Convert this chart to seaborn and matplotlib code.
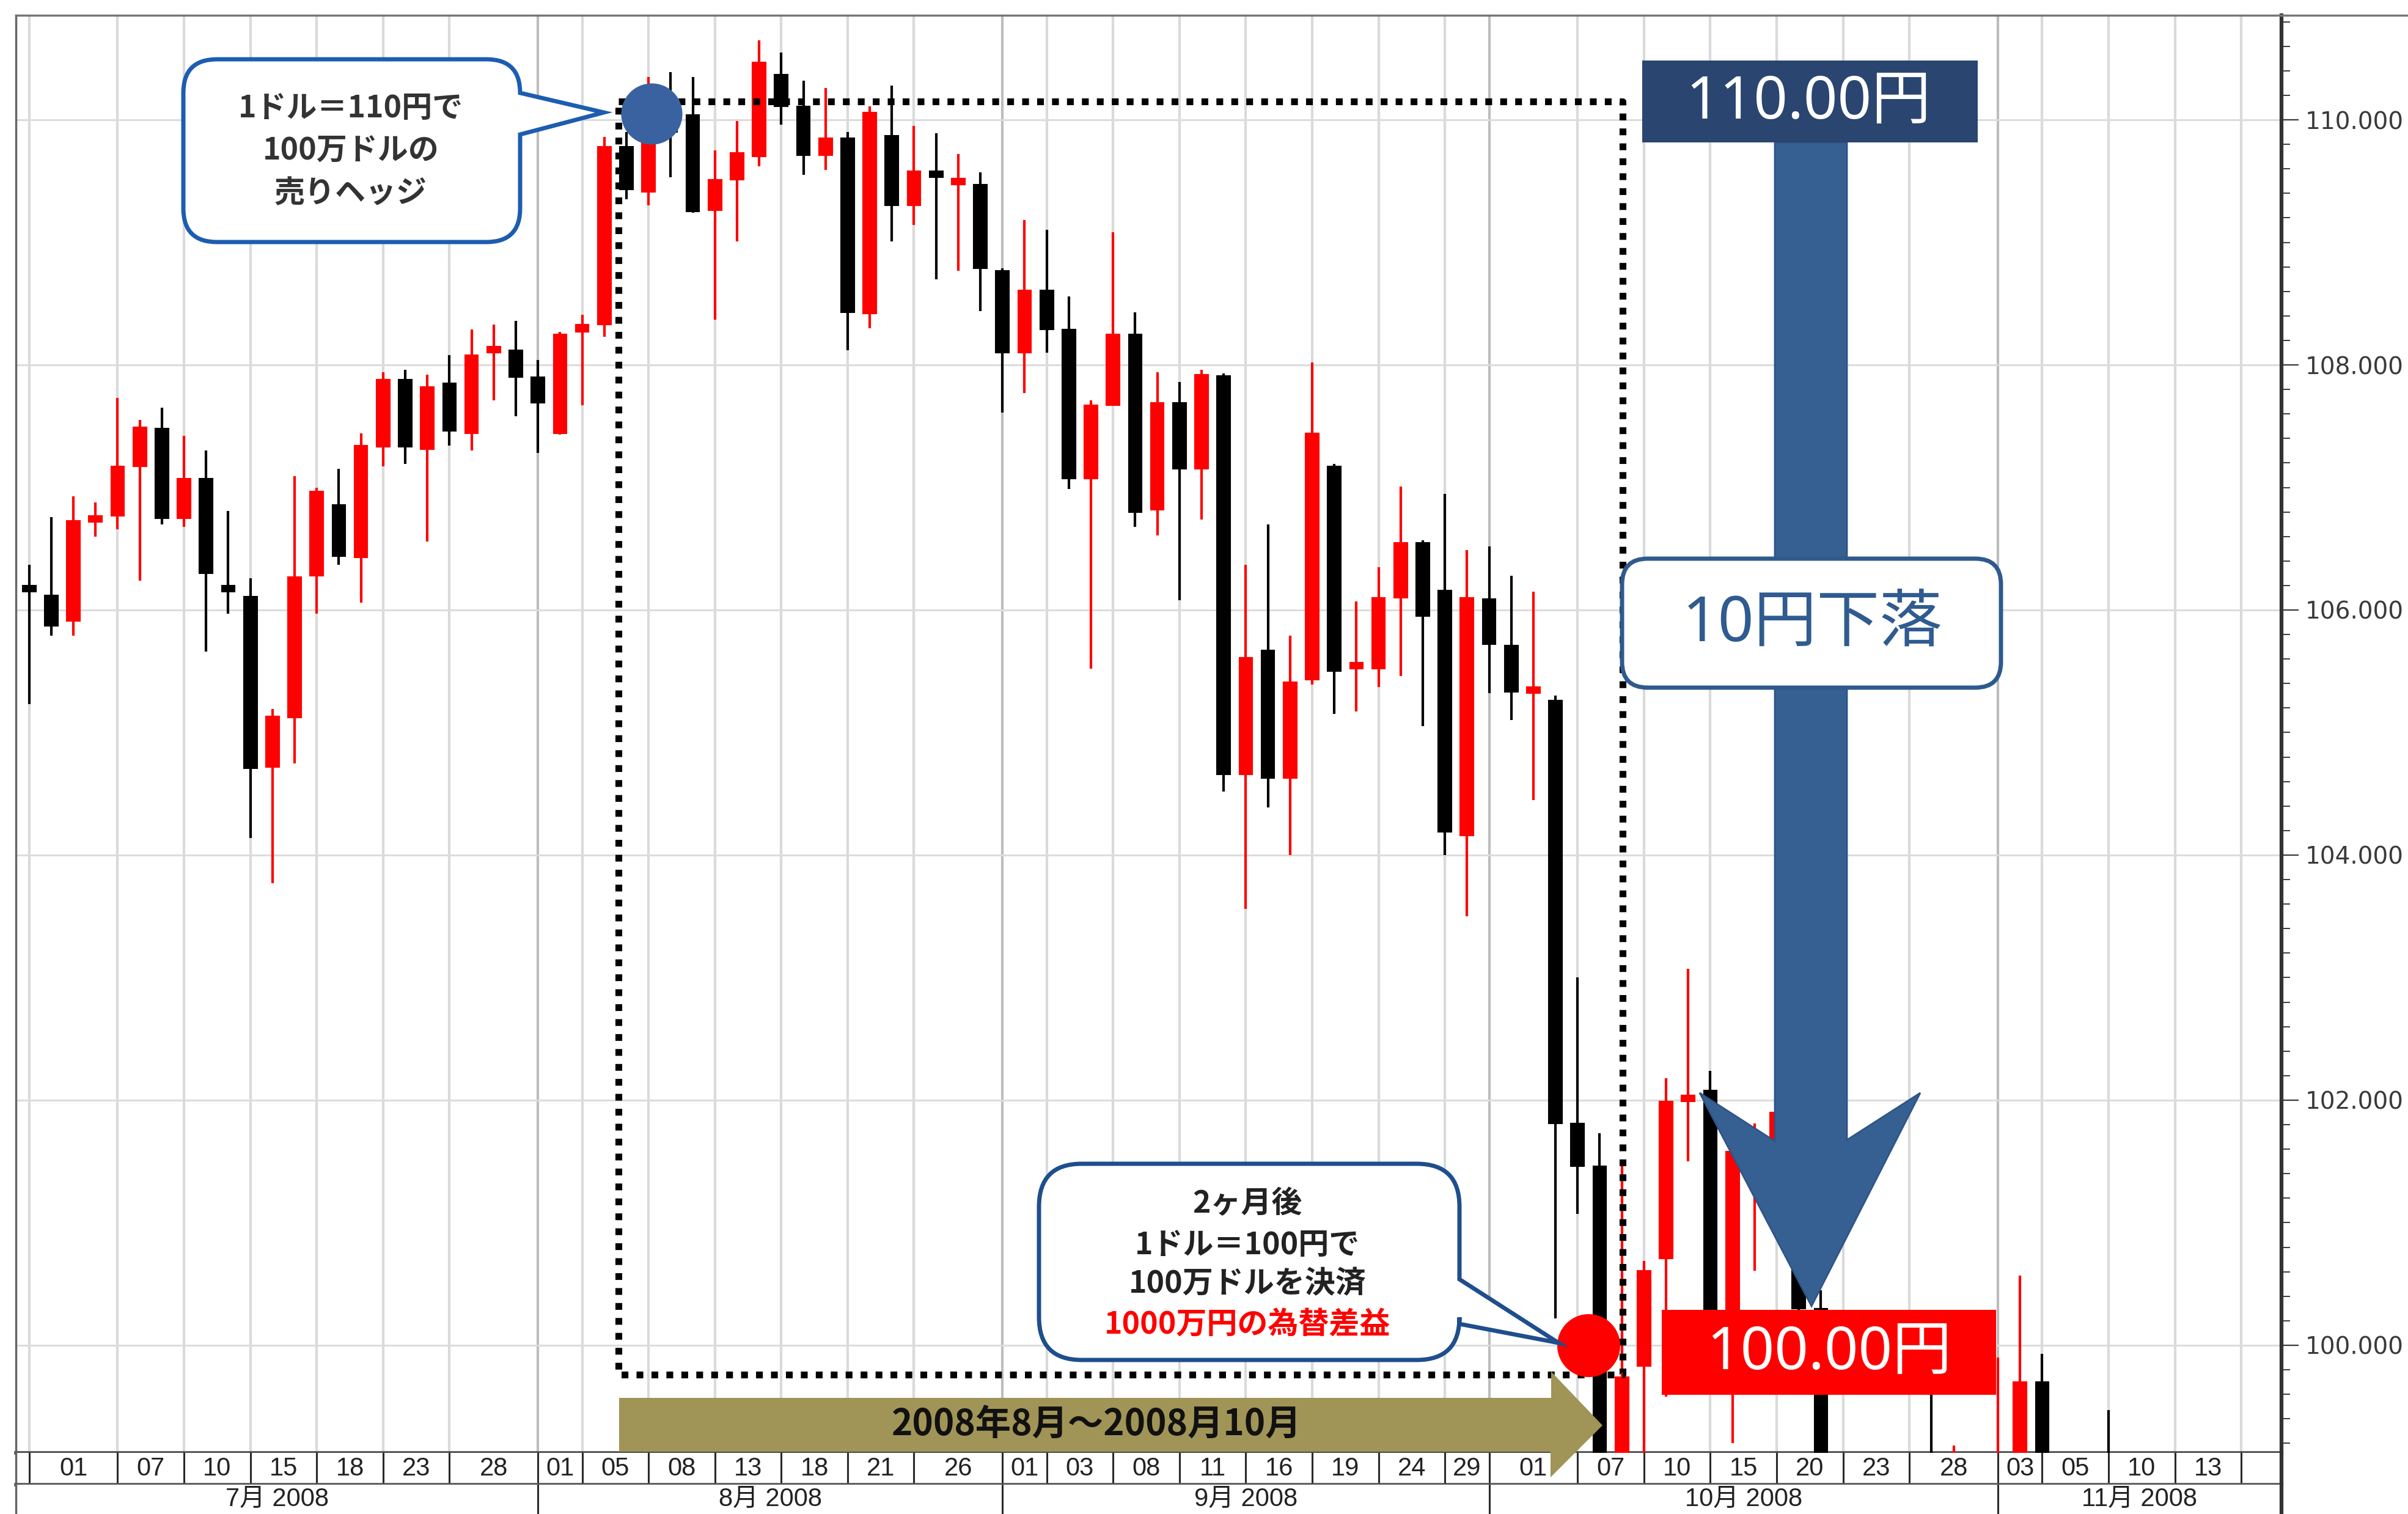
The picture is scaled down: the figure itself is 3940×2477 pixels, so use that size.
import numpy as np
import pandas as pd
import seaborn as sns
import matplotlib
matplotlib.use("Agg")
import matplotlib.pyplot as plt
from matplotlib.path import Path
from matplotlib.patches import PathPatch, Polygon, Rectangle, FancyBboxPatch
from matplotlib.ticker import MultipleLocator, FixedLocator

# USD/JPY daily candles, one per weekday starting 2008-07-01
opens = [106.18, 106.12, 105.91, 106.72, 106.77, 107.17, 107.48, 106.75, 107.07, 106.18,
         106.11, 104.72, 105.12, 106.28, 106.86, 106.43, 107.33, 107.88, 107.31, 107.85,
         107.44, 108.10, 108.12, 107.90, 107.44, 108.27, 108.33, 109.78, 109.41, 109.95,
         110.04, 109.26, 109.51, 109.70, 110.37, 110.11, 109.71, 109.85, 108.42, 109.87,
         109.30, 109.55, 109.47, 109.47, 108.77, 108.10, 108.61, 108.29, 107.07, 107.67,
         108.25, 106.82, 107.69, 107.15, 107.91, 104.66, 105.67, 104.63, 105.43, 107.17,
         105.52, 105.52, 106.10, 106.55, 106.16, 104.16, 106.09, 105.71, 105.32, 105.26,
         101.81, 101.46, 98.60, 99.83, 100.71, 101.99, 102.08, 100.00, 101.35, 101.50,
         101.80, 100.30, 97.40, 97.20, 94.50, 93.40, 98.50, 97.30, 98.40, 98.30,
         98.90, 99.70, 98.00, 97.30, 98.90]
highs = [106.37, 106.76, 106.93, 106.88, 107.73, 107.55, 107.65, 107.42, 107.30, 106.81,
         106.26, 105.19, 107.09, 107.00, 107.15, 107.44, 107.94, 107.96, 107.92, 108.08,
         108.29, 108.33, 108.36, 108.04, 108.27, 108.41, 109.86, 109.90, 110.35, 110.39,
         110.35, 109.75, 109.99, 110.65, 110.55, 110.32, 110.26, 109.90, 110.11, 110.28,
         109.95, 109.89, 109.72, 109.57, 108.79, 109.18, 109.10, 108.56, 107.71, 109.08,
         108.43, 107.94, 107.86, 107.96, 107.93, 106.37, 106.70, 105.79, 108.02, 107.19,
         106.07, 106.35, 107.01, 106.57, 106.95, 106.49, 106.52, 106.28, 106.15, 105.30,
         103.00, 101.73, 101.48, 100.69, 102.18, 103.07, 102.24, 101.70, 101.81, 102.41,
         101.95, 100.45, 98.30, 97.50, 95.20, 98.50, 99.62, 99.18, 98.90, 99.90,
         100.57, 99.93, 98.60, 98.50, 99.47]
lows = [105.23, 105.79, 105.79, 106.60, 106.66, 106.24, 106.70, 106.68, 105.66, 105.97,
        104.14, 103.77, 104.75, 105.97, 106.37, 106.06, 107.17, 107.19, 106.56, 107.34,
        107.30, 107.71, 107.58, 107.28, 107.43, 107.67, 108.23, 109.35, 109.30, 109.53,
        109.24, 108.37, 109.01, 109.62, 109.96, 109.55, 109.59, 108.12, 108.30, 109.01,
        109.14, 108.70, 108.77, 108.44, 107.61, 107.77, 108.10, 106.99, 105.52, 107.67,
        106.68, 106.61, 106.08, 106.74, 104.52, 103.56, 104.39, 104.00, 105.39, 105.15,
        105.17, 105.37, 105.46, 105.05, 104.00, 103.50, 105.32, 105.10, 104.45, 100.22,
        101.07, 98.50, 98.30, 98.40, 99.58, 101.50, 99.80, 99.20, 100.61, 101.20,
        100.00, 96.90, 96.60, 90.90, 92.50, 93.20, 96.80, 96.80, 97.60, 97.90,
        98.60, 97.60, 97.00, 96.70, 97.90]
closes = [106.15, 105.87, 106.73, 106.76, 107.17, 107.49, 106.75, 107.07, 106.30, 106.15,
          104.71, 105.13, 106.27, 106.97, 106.44, 107.34, 107.88, 107.33, 107.82, 107.46,
          108.08, 108.14, 107.90, 107.69, 108.25, 108.33, 109.78, 109.43, 110.05, 109.90,
          109.25, 109.51, 109.73, 110.47, 110.11, 109.71, 109.85, 108.43, 110.06, 109.30,
          109.58, 109.53, 109.49, 108.79, 108.10, 108.61, 108.29, 107.07, 107.67, 108.25,
          106.80, 107.69, 107.15, 107.92, 104.66, 105.61, 104.63, 105.41, 107.44, 105.50,
          105.55, 106.10, 106.55, 105.95, 104.19, 106.10, 105.72, 105.33, 105.35, 101.81,
          101.46, 98.80, 99.74, 100.61, 101.99, 102.03, 100.10, 101.58, 101.60, 101.90,
          100.30, 97.40, 97.20, 94.50, 93.40, 97.80, 97.30, 98.40, 98.30, 98.90,
          99.70, 98.00, 97.30, 98.20, 98.30]

tick_days = ["2008-07-01", "2008-07-07", "2008-07-10", "2008-07-15", "2008-07-18",
             "2008-07-23", "2008-07-28", "2008-08-01", "2008-08-05", "2008-08-08",
             "2008-08-13", "2008-08-18", "2008-08-21", "2008-08-26", "2008-09-01",
             "2008-09-03", "2008-09-08", "2008-09-11", "2008-09-16", "2008-09-19",
             "2008-09-24", "2008-09-29", "2008-10-01", "2008-10-07", "2008-10-10",
             "2008-10-15", "2008-10-20", "2008-10-23", "2008-10-28", "2008-11-03",
             "2008-11-05", "2008-11-10", "2008-11-13", "2008-11-18"]
month_starts = ["2008-08-01", "2008-09-01", "2008-10-01", "2008-11-03"]
month_labels = ["7月 2008", "8月 2008", "9月 2008", "10月 2008", "11月 2008"]
price_ticks = [100, 102, 104, 106, 108, 110]
hedge_rate = 110.00
settle_rate = 100.00

RED = "#FF0000"
BLACK = "#000000"

sns.set_theme(style="white")
plt.rcParams["font.family"] = ["Noto Sans CJK JP", "DejaVu Sans"]

W, H = 3941, 2477
fig = plt.figure(figsize=(W / 100, H / 100), dpi=100)
fig.patch.set_facecolor("white")


def px_axes(x0, y0, x1, y1):
    return fig.add_axes([x0 / W, 1 - y1 / H, (x1 - x0) / W, (y1 - y0) / H])


ax = px_axes(26, 25, 3733, 2377)
ax_day = px_axes(26, 2377, 3733, 2429)
ax_mon = px_axes(26, 2429, 3733, 2477)

bdays = pd.bdate_range("2008-07-01", "2008-11-28")
df = pd.DataFrame({"date": bdays[:len(opens)], "open": opens, "high": highs,
                   "low": lows, "close": closes})
df["x"] = np.arange(len(df))
df["up"] = df["close"] >= df["open"]
df["color"] = np.where(df["up"], RED, BLACK)
df["bottom"] = df[["open", "close"]].min(axis=1)
df["body"] = (df["close"] - df["open"]).abs().clip(lower=0.05)

tick_pos = bdays.get_indexer(pd.to_datetime(tick_days))
month_pos = bdays.get_indexer(pd.to_datetime(month_starts))

xlim = (-0.6, 101.82)
ylim = (99.122, 110.853)

# grid
for t in tick_pos:
    c = "#BDBDBD" if t in month_pos else "#DADADA"
    ax.axvline(t, color=c, lw=3, zorder=0)
for p in price_ticks:
    ax.axhline(p, color="#DCDCDC", lw=2.2, zorder=0)

# candles
ax.vlines(df["x"], df["low"], df["high"], colors=df["color"], lw=3.0, zorder=3)
ax.bar(df["x"], df["body"], bottom=df["bottom"], width=0.6, color=df["color"],
       edgecolor=df["color"], linewidth=1.5, zorder=4)

ax.set_xlim(*xlim)
ax.set_ylim(*ylim)
ax.set_xticks([])
ax.yaxis.tick_right()
ax.yaxis.set_major_locator(FixedLocator(price_ticks))
ax.yaxis.set_minor_locator(MultipleLocator(0.2))
ax.yaxis.set_major_formatter("{x:.3f}")
ax.tick_params(axis="y", which="major", length=20, width=1.6, colors="#3A3A3A",
               labelsize=28, pad=8, right=True, left=False, direction="out")
ax.tick_params(axis="y", which="minor", length=10, width=1.4, colors="#3A3A3A",
               right=True, left=False, direction="out")
for lab in ax.get_yticklabels():
    lab.set_fontfamily("DejaVu Sans")
for side, lw, col in [("left", 2.5, "#666666"), ("top", 2.5, "#777777"),
                      ("right", 4.5, "#333333"), ("bottom", 4.0, "#4A4A4A")]:
    ax.spines[side].set_linewidth(lw)
    ax.spines[side].set_color(col)

# dotted box from hedge to settlement
bx0, bx1, by0, by1 = 26.65, 72.03, 110.15, 99.76
ax.plot([bx0, bx1, bx1, bx0, bx0], [by0, by0, by1, by1, by0], color="black", lw=8,
        linestyle=(0, (1, 1.2)), dash_capstyle="butt", zorder=6)
ax.scatter([28.14], [hedge_rate + 0.05], s=5200, color="#3B62A0", zorder=7, linewidths=0)
ax.scatter([70.5], [settle_rate], s=5500, color=RED, zorder=7, linewidths=0)

# day label row
lab_font = ["Liberation Sans", "Noto Sans CJK JP"]
ax_day.set_xlim(*xlim)
ax_day.set_ylim(0, 1)
ax_day.set_xticks([])
ax_day.set_yticks([])
for t in tick_pos:
    ax_day.axvline(t, color="#2A2A2A", lw=2.2)
for a, b, d in zip(tick_pos[:-1], tick_pos[1:], tick_days[:-1]):
    ax_day.text((a + b) / 2, 0.5, d[-2:], ha="center", va="center", fontsize=30,
                color="#222222", family=lab_font)
ax_day.spines["top"].set_visible(False)
ax_day.spines["bottom"].set_linewidth(4)
ax_day.spines["bottom"].set_color("#555555")
ax_day.spines["left"].set_linewidth(2.5)
ax_day.spines["left"].set_color("#666666")
ax_day.spines["right"].set_linewidth(4.5)
ax_day.spines["right"].set_color("#333333")

# month label row
ax_mon.set_xlim(*xlim)
ax_mon.set_ylim(0, 1)
ax_mon.set_xticks([])
ax_mon.set_yticks([])
for t in month_pos:
    ax_mon.axvline(t, color="#2A2A2A", lw=2.2)
edges = [xlim[0]] + list(month_pos) + [xlim[1]]
for a, b, m in zip(edges[:-1], edges[1:], month_labels):
    ax_mon.text((a + b) / 2, 0.5, m, ha="center", va="center", fontsize=30,
                color="#222222", family=lab_font)
ax_mon.spines["bottom"].set_visible(False)
ax_mon.spines["top"].set_visible(False)
ax_mon.spines["left"].set_linewidth(2.5)
ax_mon.spines["left"].set_color("#666666")
ax_mon.spines["right"].set_linewidth(4.5)
ax_mon.spines["right"].set_color("#333333")

# overlay in pixel coordinates for the callouts
ov = fig.add_axes([0, 0, 1, 1])
ov.set_xlim(0, W)
ov.set_ylim(H, 0)
ov.axis("off")
ov.set_zorder(20)
ov.plot([3733, W], [25, 25], color="#777777", lw=2.5)


def bubble(x0, y0, x1, y1, r, ya, tip, yb):
    tx, ty = tip
    v = [(x0 + r, y0), (x1 - r, y0), (x1, y0), (x1, y0 + r),
         (x1, ya), (tx, ty), (x1, yb),
         (x1, y1 - r), (x1, y1), (x1 - r, y1),
         (x0 + r, y1), (x0, y1), (x0, y1 - r),
         (x0, y0 + r), (x0, y0), (x0 + r, y0), (x0 + r, y0)]
    c = [Path.MOVETO, Path.LINETO, Path.CURVE3, Path.CURVE3,
         Path.LINETO, Path.LINETO, Path.LINETO,
         Path.LINETO, Path.CURVE3, Path.CURVE3,
         Path.LINETO, Path.CURVE3, Path.CURVE3,
         Path.LINETO, Path.CURVE3, Path.CURVE3, Path.CLOSEPOLY]
    return Path(v, c)


ov.add_patch(PathPatch(bubble(300, 97, 851, 396, 55, 152, (988, 184), 220),
                       facecolor="white", edgecolor="#1C5DB0", lw=5))
for y, s in zip([178, 247, 317], ["1ドル＝110円で", "100万ドルの", "売りヘッジ"]):
    ov.text(574, y, s, ha="center", va="center", fontsize=36, fontweight="bold",
            color="#333333", family="Noto Sans CJK JP")

ov.add_patch(PathPatch(bubble(1700, 1904, 2388, 2225, 70, 2093, (2550, 2197), 2166),
                       facecolor="white", edgecolor="#1F4E8C", lw=5))
lines2 = ["2ヶ月後", "1ドル＝100円で", "100万ドルを決済", "1000万円の為替差益"]
for y, s, col in zip([1970, 2037, 2101, 2167], lines2,
                     ["#222222", "#222222", "#222222", RED]):
    ov.text(2041, y, s, ha="center", va="center", fontsize=36, fontweight="bold",
            color=col, family="Noto Sans CJK JP")

# olive period arrow
ov.add_patch(Polygon([(1013, 2287), (2538, 2287), (2538, 2244), (2622, 2332),
                      (2537, 2417), (2537, 2375), (1013, 2375)],
                     closed=True, facecolor="#A09457", edgecolor="none"))
ov.text(1794, 2331, "2008年8月～2008月10月", ha="center", va="center", fontsize=42,
        fontweight="bold", color="#111111", family="Noto Sans CJK JP")

# big downward arrow 110 -> 100
ov.add_patch(Polygon([(2904, 233), (3022, 233), (3022, 1865), (3142, 1788),
                      (2964, 2137), (2781, 1788), (2904, 1867)],
                     closed=True, facecolor="#376092", edgecolor="#2F5487", lw=2))
ov.add_patch(FancyBboxPatch((2654, 914), 620, 211, boxstyle="round,pad=0,rounding_size=42",
                            facecolor="white", edgecolor="#2E5A8E", lw=5))
ov.text(2966, 1022, "10円下落", ha="center", va="center", fontsize=74,
        color="#2F5B90", family=["Noto Sans", "Noto Sans CJK JP"])

ov.add_patch(Rectangle((2687, 99), 549, 134, facecolor="#2A4570", edgecolor="none"))
ov.text(2959, 168, "110.00円", ha="center", va="center", fontsize=70, color="white",
        family=["Noto Sans", "Noto Sans CJK JP"])
ov.add_patch(Rectangle((2719, 2143), 547, 139, facecolor=RED, edgecolor="none"))
ov.text(2993, 2214, "100.00円", ha="center", va="center", fontsize=70, color="white",
        family=["Noto Sans", "Noto Sans CJK JP"])

fig.savefig("out.png", dpi=100, facecolor="white")
